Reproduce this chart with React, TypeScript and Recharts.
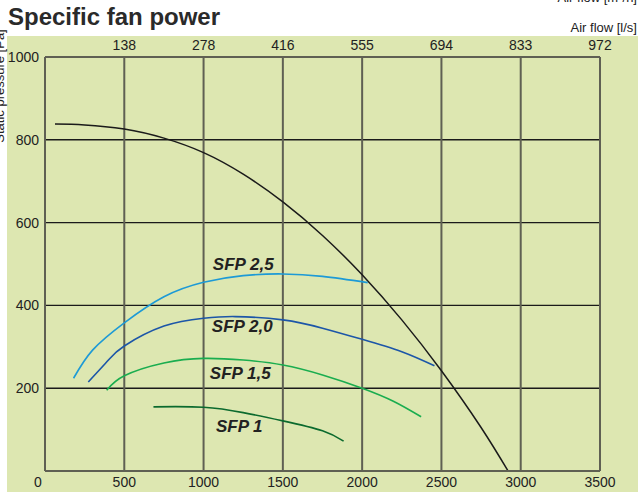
import { LineChart, Line, XAxis, YAxis, CartesianGrid, ReferenceDot } from "recharts";

// bottom axis: air flow in m³/h, top axis: the same gridlines in l/s
const flowTicks = [0, 500, 1000, 1500, 2000, 2500, 3000, 3500];
const topTicks = [500, 1000, 1500, 2000, 2500, 3000, 3500];
const topTickLabels = ["138", "278", "416", "555", "694", "833", "972"];
const pressureTicks = [200, 400, 600, 800, 1000];

// fan curve (black)
const fanFlow = [63, 250, 500, 750, 1000, 1250, 1500, 1750, 2000, 2250, 2500, 2750, 2920];
const fanPressure = [838, 836, 826, 804, 769, 717, 650, 569, 474, 365, 242, 105, 0];

// SFP curves
const sfp25Flow = [180, 300, 500, 750, 1000, 1250, 1500, 1750, 2035];
const sfp25Pressure = [224, 292, 358, 421, 456, 472, 476, 470, 455];

const sfp20Flow = [273, 400, 500, 750, 1000, 1200, 1500, 1750, 2000, 2250, 2456];
const sfp20Pressure = [215, 268, 302, 350, 369, 373, 365, 345, 318, 288, 254];

const sfp15Flow = [389, 500, 750, 1000, 1250, 1500, 1750, 2000, 2200, 2372];
const sfp15Pressure = [195, 230, 261, 272, 268, 256, 232, 200, 168, 131];

const sfp10Flow = [684, 1000, 1250, 1500, 1750, 1883];
const sfp10Pressure = [155, 154, 141, 121, 97, 72];

const sfpNames = ["SFP 2,5", "SFP 2,0", "SFP 1,5", "SFP 1"];
const sfpLabelFlow = [1250, 1244, 1231, 1225];
const sfpLabelPressure = [498, 348, 236, 108];

const toPoints = (xs: number[], ys: number[]) => xs.map((x, i) => ({ x, y: ys[i] }));

const FONT = '"Liberation Sans", Arial, sans-serif';
const GRID_GRAY = "#5f6053";
const TEXT = "#222";

const BottomTick = (props: any) => {
  const { x, y, payload } = props;
  return (
    <text x={x + (payload.value === 0 ? -7 : 0)} y={y} dy="0.71em" textAnchor="middle" fontSize={14} fill={TEXT} fontFamily={FONT}>
      {payload.value}
    </text>
  );
};

const SfpLabel = (text: string) => (props: any) => {
  const vb = props.viewBox;
  return (
    <text
      x={vb.x + vb.width / 2}
      y={vb.y + vb.height / 2}
      textAnchor="middle"
      dominantBaseline="central"
      fontSize={17}
      fontWeight="bold"
      fontStyle="italic"
      fill={TEXT}
      fontFamily={FONT}
    >
      {text}
    </text>
  );
};

export default function App() {
  const fanPoints = toPoints(fanFlow, fanPressure);
  return (
    <div style={{ position: "absolute", left: 0, top: 0, width: 638, height: 495, background: "#fff", fontFamily: FONT, overflow: "hidden" }}>
      <div style={{ position: "absolute", left: 7, top: 36, width: 631, height: 456, background: "#dde7b1" }} />
      <div style={{ position: "absolute", left: 0, top: 0 }}>
        <LineChart width={638} height={495} margin={{ top: 0, right: 38, bottom: 0, left: 0 }}>
          <CartesianGrid horizontal vertical={false} stroke="#1a1a1a" strokeWidth={1.4} />
          <CartesianGrid horizontal={false} vertical stroke={GRID_GRAY} strokeWidth={2} />
          <XAxis
            dataKey="x"
            type="number"
            domain={[0, 3500]}
            ticks={flowTicks}
            height={24}
            tickSize={4}
            tickLine={false}
            axisLine={{ stroke: GRID_GRAY, strokeWidth: 2 }}
            tick={<BottomTick />}
          />
          <XAxis
            xAxisId="top"
            orientation="top"
            dataKey="x"
            type="number"
            domain={[0, 3500]}
            ticks={topTicks}
            height={57}
            tickSize={5}
            tickLine={false}
            axisLine={{ stroke: GRID_GRAY, strokeWidth: 2 }}
            tickFormatter={(v: number, i: number) => topTickLabels[i]}
            tick={{ fontSize: 14, fill: TEXT, fontFamily: FONT }}
          />
          <YAxis
            type="number"
            domain={[0, 1000]}
            ticks={pressureTicks}
            width={45}
            tickSize={4}
            tickLine={false}
            axisLine={{ stroke: GRID_GRAY, strokeWidth: 2 }}
            tick={{ fontSize: 14, fill: TEXT, fontFamily: FONT }}
          />
          {/* invisible copy so the top (l/s) axis has a series of its own */}
          <Line xAxisId="top" data={fanPoints} dataKey="y" stroke="transparent" dot={false} activeDot={false} isAnimationActive={false} />
          <Line data={fanPoints} dataKey="y" type="natural" stroke="#1a1a1a" strokeWidth={1.5} dot={false} isAnimationActive={false} />
          <Line data={toPoints(sfp25Flow, sfp25Pressure)} dataKey="y" type="natural" stroke="#1d9ad6" strokeWidth={1.6} dot={false} isAnimationActive={false} />
          <Line data={toPoints(sfp20Flow, sfp20Pressure)} dataKey="y" type="natural" stroke="#1c56a8" strokeWidth={1.6} dot={false} isAnimationActive={false} />
          <Line data={toPoints(sfp15Flow, sfp15Pressure)} dataKey="y" type="natural" stroke="#1aad4f" strokeWidth={1.6} dot={false} isAnimationActive={false} />
          <Line data={toPoints(sfp10Flow, sfp10Pressure)} dataKey="y" type="natural" stroke="#0b6a2e" strokeWidth={1.6} dot={false} isAnimationActive={false} />
          {sfpNames.map((name, i) => (
            <ReferenceDot
              key={name}
              x={sfpLabelFlow[i]}
              y={sfpLabelPressure[i]}
              r={1}
              fill="none"
              stroke="none"
              label={SfpLabel(name)}
            />
          ))}
        </LineChart>
      </div>
      <svg width={638} height={495} style={{ position: "absolute", left: 0, top: 0, pointerEvents: "none" }}>
        <text x={8} y={24.5} fontSize={24} fontWeight="bold" fill="#2a2a2a" fontFamily={FONT}>
          Specific fan power
        </text>
        <text x={637} y={2} textAnchor="end" fontSize={13} fill={TEXT} fontFamily={FONT}>
          Air flow [m³/h]
        </text>
        <text x={637} y={31.5} textAnchor="end" fontSize={13} fill={TEXT} fontFamily={FONT}>
          Air flow [l/s]
        </text>
        <text x={4} y={86} transform="rotate(-90 4 86)" textAnchor="middle" fontSize={13} fill={TEXT} fontFamily={FONT}>
          Static pressure [Pa]
        </text>
      </svg>
    </div>
  );
}
